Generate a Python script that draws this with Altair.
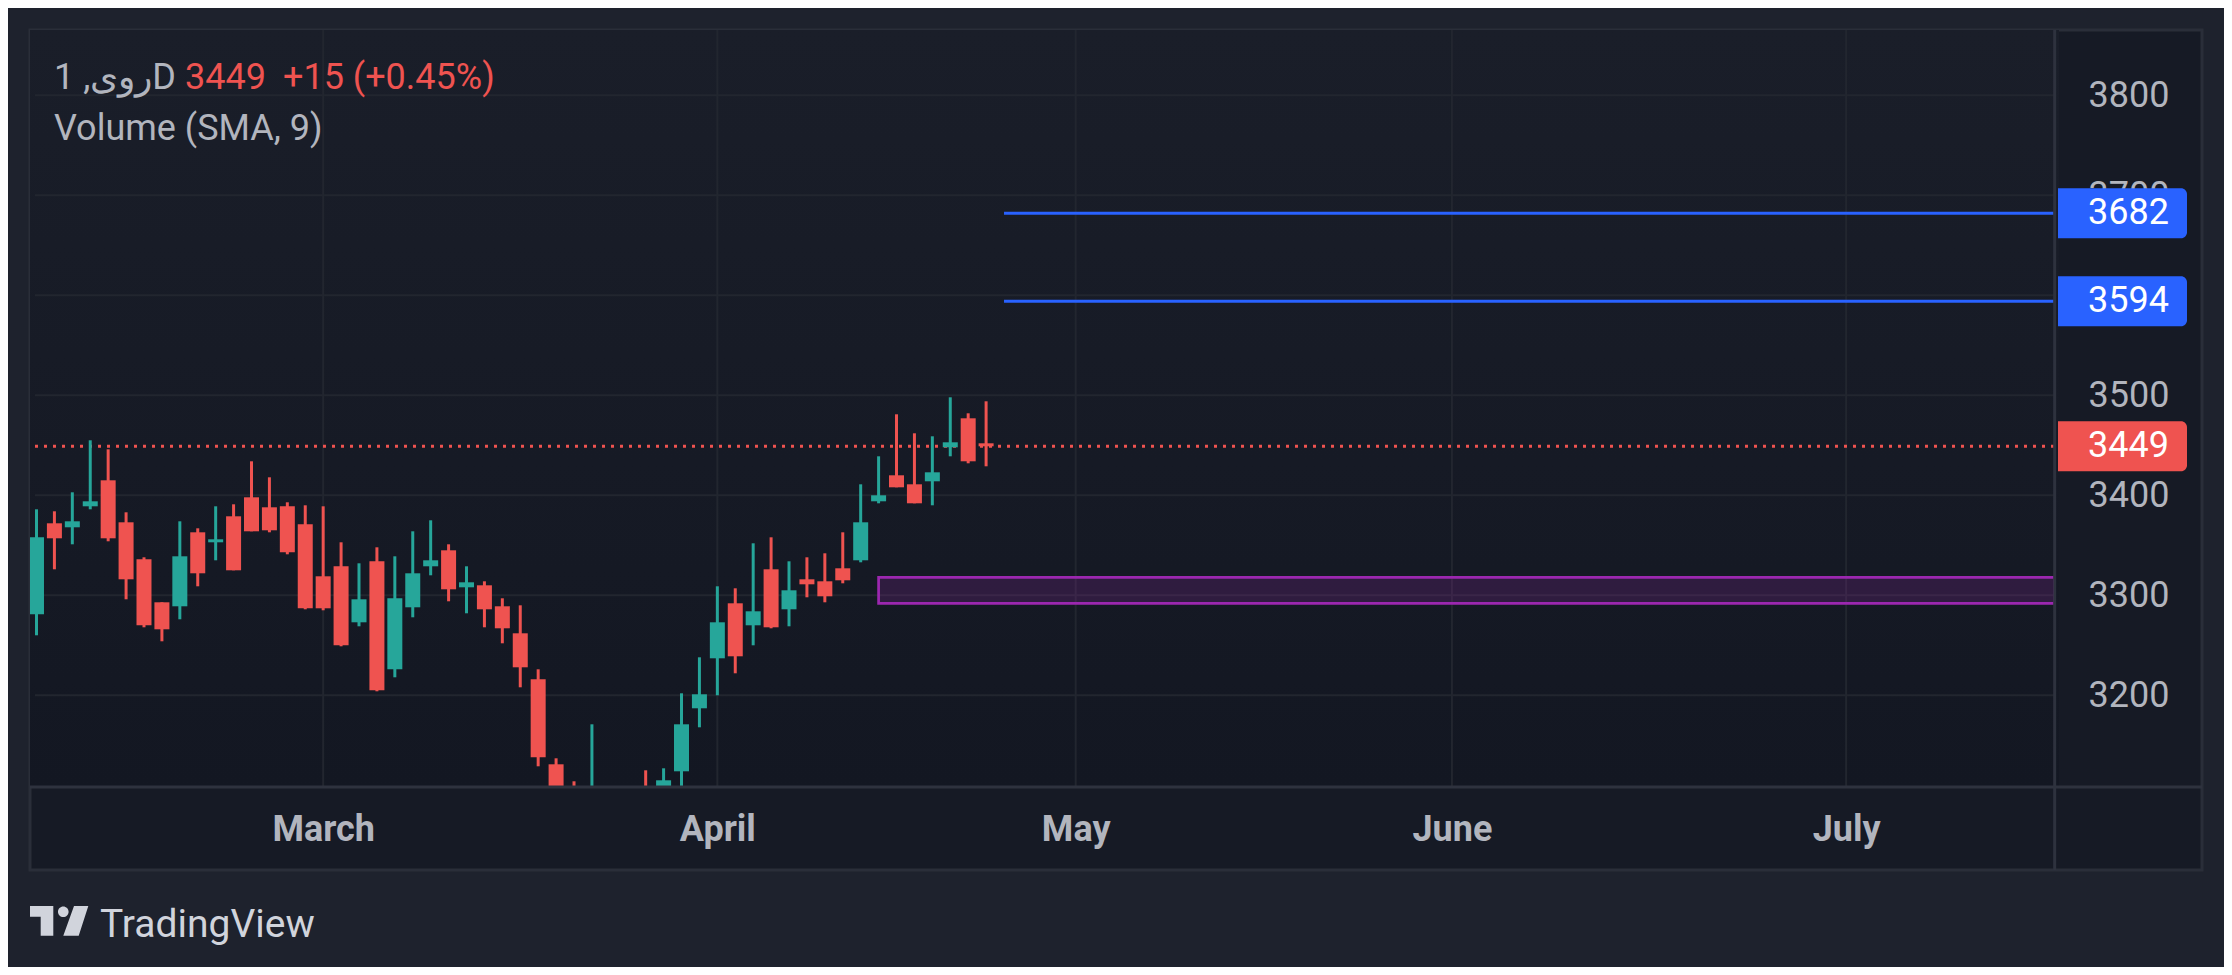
import altair as alt
import pandas as pd

# ---------------- data ----------------
bar_index = list(range(54))
opens = [3281, 3372, 3368, 3389, 3415, 3373, 3336, 3293, 3289, 3363,
         3353, 3379, 3398, 3388, 3389, 3371, 3319, 3329, 3273, 3334,
         3226, 3288, 3329, 3345, 3308, 3310, 3289, 3262, 3216, 3131,
         3100, 3050, 3070, 3060, 3095, 3085, 3124, 3187, 3237, 3292,
         3270, 3326, 3286, 3316, 3314, 3327, 3335, 3394, 3420, 3411,
         3414, 3448, 3477, 3452]
highs = [3386, 3384, 3403, 3455, 3446, 3383, 3338, 3293, 3374, 3367,
         3389, 3391, 3434, 3418, 3393, 3390, 3389, 3353, 3332, 3348,
         3339, 3364, 3375, 3351, 3329, 3314, 3297, 3290, 3226, 3137,
         3114, 3171, 3100, 3095, 3125, 3127, 3202, 3238, 3309, 3307,
         3352, 3358, 3334, 3338, 3342, 3363, 3411, 3439, 3481, 3462,
         3459, 3498, 3482, 3494]
lows = [3260, 3326, 3351, 3386, 3354, 3296, 3268, 3254, 3276, 3309,
        3335, 3325, 3364, 3363, 3341, 3286, 3285, 3249, 3269, 3204,
        3218, 3278, 3320, 3294, 3282, 3268, 3252, 3208, 3129, 3070,
        3040, 3040, 3030, 3035, 3050, 3070, 3095, 3168, 3200, 3222,
        3250, 3267, 3269, 3298, 3293, 3312, 3333, 3392, 3408, 3392,
        3390, 3439, 3432, 3429]
closes = [3358, 3357, 3374, 3394, 3357, 3316, 3270, 3266, 3339, 3322,
          3356, 3325, 3364, 3365, 3343, 3287, 3287, 3250, 3296, 3205,
          3297, 3322, 3335, 3306, 3313, 3286, 3267, 3228, 3138, 3085,
          3060, 3080, 3050, 3075, 3070, 3115, 3171, 3201, 3273, 3239,
          3284, 3268, 3305, 3311, 3299, 3315, 3373, 3400, 3408, 3392,
          3423, 3453, 3434, 3449]

price_ticks = [3200, 3300, 3400, 3500, 3600, 3700, 3800]
month_ticks = [16, 38, 58, 79, 101]
month_labels = ["March", "April", "May", "June", "July"]

level_prices = [3682, 3594]
level_start = 54
last_price = 3449
zone_start = 47
zone_low = 3292
zone_high = 3318

tag_prices = [3682, 3594, 3449]
tag_texts = ["3682", "3594", "3449"]
tag_colors = ["#2962ff", "#2962ff", "#ef5350"]

symbol_text = "روی, 1D"
price_text = "3449"
change_text = "+15 (+0.45%)"
indicator_text = "Volume (SMA, 9)"
brand_text = "TradingView"

# ---------------- styling ----------------
TEAL = "#26a69a"
RED = "#ef5350"
GRID = "#22262f"
SEP = "#2e323e"
AXIS_TXT = "#b2b5be"
FONT = "Roboto"

W, H = 2172, 840          # whole dark box (view)
PANE_W, PANE_H = 2029, 757
X_MIN, X_PANE, X_MAX = -0.0833, 112.639, 120.5833
Y_MIN, Y_MAX = 3108.3, 3865.3

xscale = alt.Scale(domain=[X_MIN, X_MAX], nice=False, zero=False)
yscale = alt.Scale(domain=[Y_MIN, Y_MAX], range=[PANE_H, 0], clamp=True,
                   nice=False, zero=False)

label_expr = " : ".join(
    f"datum.value == {v} ? '{t}'" for v, t in zip(month_ticks, month_labels)
) + " : ''"

xaxis = alt.Axis(orient="bottom", offset=-(H - PANE_H), values=month_ticks,
                 labelExpr=label_expr, grid=False, domain=False, ticks=False,
                 labelPadding=42, labelBaseline="middle", labelFontSize=36,
                 labelFontWeight="bold", labelColor=AXIS_TXT, labelFont=FONT,
                 title=None, labelOverlap=False, labelFlush=False)
yaxis = alt.Axis(orient="right", offset=-143, values=price_ticks, format="d",
                 grid=False, domain=False, ticks=False, labelPadding=69.5,
                 labelAlign="center", labelFontSize=36, labelColor=AXIS_TXT,
                 labelFont=FONT, title=None, labelOverlap=False)


def X(field):
    return alt.X(field, type="quantitative", scale=xscale, axis=xaxis)


def Y(field):
    return alt.Y(field, type="quantitative", scale=yscale, axis=yaxis)


candles = pd.DataFrame({"i": bar_index, "open": opens, "high": highs,
                        "low": lows, "close": closes})
one = pd.DataFrame({"k": [0]})

hgrid = pd.DataFrame({"p": price_ticks, "x0": X_MIN, "x1": X_PANE})
vgrid = pd.DataFrame({"m": month_ticks, "y0": Y_MIN, "y1": Y_MAX})
levels = pd.DataFrame({"p": level_prices, "x0": level_start, "x1": X_PANE})
last_df = pd.DataFrame({"p": [last_price], "x0": [X_MIN], "x1": [X_PANE]})
zone = pd.DataFrame({"x0": [zone_start], "x1": [X_PANE],
                     "lo": [zone_low], "hi": [zone_high]})
tags = pd.DataFrame({"p": tag_prices, "t": tag_texts, "c": tag_colors})
sep_v = pd.DataFrame({"x": [X_PANE]})
sep_h = pd.DataFrame({"p": [Y_MIN]})

is_up = "datum.close >= datum.open"

layers = []

# pane background gradient (pane only, so axis labels stay visible)
pane_grad = alt.LinearGradient(
    gradient="linear", x1=0, y1=0, x2=0, y2=1,
    stops=[alt.GradientStop(offset=0, color="#1a1e29"),
           alt.GradientStop(offset=1, color="#131722")])
layers.append(alt.Chart(one).mark_rect(color=pane_grad).encode(
    x=alt.value(0), x2=alt.value(PANE_W), y=alt.value(0), y2=alt.value(PANE_H)))

layers.append(alt.Chart(hgrid).mark_rule(color=GRID, strokeWidth=2).encode(
    x=X("x0"), x2="x1", y=Y("p")))
layers.append(alt.Chart(vgrid).mark_rule(color=GRID, strokeWidth=2).encode(
    x=X("m"), y=Y("y0"), y2="y1"))

layers.append(alt.Chart(zone).mark_rect(
    fill="#9c27b0", fillOpacity=0.2, stroke="#9c27b0", strokeWidth=2.7).encode(
    x=X("x0"), x2="x1", y=Y("lo"), y2="hi"))

layers.append(alt.Chart(last_df).mark_rule(
    color=RED, strokeWidth=3, strokeDash=[3, 6]).encode(
    x=X("x0"), x2="x1", y=Y("p")))

layers.append(alt.Chart(levels).mark_rule(color="#2962ff", strokeWidth=3).encode(
    x=X("x0"), x2="x1", y=Y("p")))

layers.append(alt.Chart(candles).mark_rule(strokeWidth=3, clip=True).encode(
    x=X("i"), y=Y("low"), y2="high",
    color=alt.condition(is_up, alt.value(TEAL), alt.value(RED))))
layers.append(alt.Chart(candles).mark_bar(size=15, clip=True).encode(
    x=X("i"), y=Y("open"), y2="close",
    color=alt.condition(is_up, alt.value(TEAL), alt.value(RED))))

# pane separators
layers.append(alt.Chart(sep_v).mark_rule(color=SEP, strokeWidth=3).encode(
    x=X("x"), y=alt.value(0), y2=alt.value(H)))
layers.append(alt.Chart(sep_h).mark_rule(color=SEP, strokeWidth=3).encode(
    y=Y("p"), x=alt.value(0), x2=alt.value(W)))

# price tags on the axis
tag_base = alt.Chart(tags).transform_calculate(
    lo="datum.p - 25", hi="datum.p + 25")
layers.append(tag_base.mark_rect(cornerRadiusTopRight=6,
                                 cornerRadiusBottomRight=6).encode(
    x=alt.value(2028), x2=alt.value(2157), y=Y("lo"), y2="hi",
    color=alt.Color("c:N", scale=None)))
layers.append(alt.Chart(tags).mark_text(
    color="#ffffff", fontSize=36, font=FONT, align="center",
    baseline="middle").encode(
    x=alt.value(2098.5), y=Y("p"), text="t:N"))

# header legend text
layers.append(alt.Chart(one).mark_text(
    text=symbol_text, color=AXIS_TXT, fontSize=36, font=FONT,
    align="left", baseline="alphabetic").encode(
    x=alt.value(24), y=alt.value(59.3)))
layers.append(alt.Chart(one).mark_text(
    text=price_text, color=RED, fontSize=36, font=FONT,
    align="left", baseline="alphabetic").encode(
    x=alt.value(155), y=alt.value(59.3)))
layers.append(alt.Chart(one).mark_text(
    text=change_text, color=RED, fontSize=36, font=FONT,
    align="left", baseline="alphabetic").encode(
    x=alt.value(253), y=alt.value(59.3)))
layers.append(alt.Chart(one).mark_text(
    text=indicator_text, color=AXIS_TXT, fontSize=36, font=FONT,
    align="left", baseline="alphabetic").encode(
    x=alt.value(24), y=alt.value(109.7)))

# TradingView brand
logo_path = ("M-1,-0.509 L-0.202,-0.509 L-0.202,0.509 L-0.634,0.509 "
             "L-0.634,-0.142 L-1,-0.142 Z "
             "M-0.042,-0.313 A0.182,0.182 0 1,0 0.322,-0.313 "
             "A0.182,0.182 0 1,0 -0.042,-0.313 Z "
             "M0.507,-0.509 L0.997,-0.509 L0.668,0.509 L0.140,0.509 Z")
layers.append(alt.Chart(one).mark_point(
    shape=logo_path, filled=True, size=3411, color="#d1d4dc", opacity=1,
    strokeWidth=0).encode(x=alt.value(29.2), y=alt.value(890.85)))
layers.append(alt.Chart(one).mark_text(
    text=brand_text, color="#d1d4dc", fontSize=39, font=FONT,
    align="left", baseline="alphabetic").encode(
    x=alt.value(70), y=alt.value(906.7)))

chart = alt.layer(*layers).properties(
    width=W, height=H,
    padding={"left": 22, "top": 22, "right": 22, "bottom": 97},
    autosize=alt.AutoSizeParams(type="none"),
).configure(background="#1e222d").configure_view(
    fill="#161a25", stroke="#2a2e39", strokeWidth=3
)

chart.save("out.html", embed_options={"renderer": "svg", "actions": False})
